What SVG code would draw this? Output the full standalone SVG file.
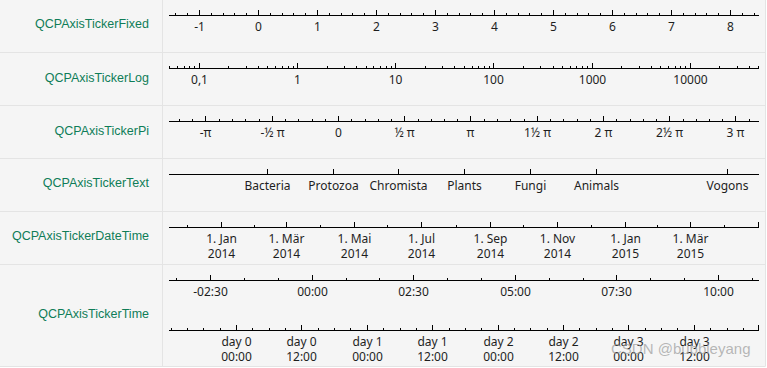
<svg xmlns="http://www.w3.org/2000/svg" width="767" height="368" viewBox="0 0 767 368">
<style>
.bg{fill:#f5f5f5}
.grid{stroke:#e4e4e4;stroke-width:1;fill:none}
.ax{stroke:#000;stroke-width:1;fill:none}
.name{font-family:"Liberation Sans",Arial,sans-serif;font-size:12.5px;fill:#0f7d58;text-anchor:end}
.tl{font-family:"Noto Sans","Open Sans",sans-serif;font-size:12px;fill:#1e1e1e;text-anchor:middle}
.wm{font-family:"Liberation Sans",Arial,sans-serif;font-size:15px;fill:#9a9a9a;fill-opacity:0.7}
</style>
<rect class="bg" x="0" y="0" width="767" height="368"/>
<rect x="0" y="367" width="767" height="1" fill="#ffffff"/>
<rect x="766" y="0" width="1" height="368" fill="#ffffff"/>
<g id="grid">
<path class="grid" d="M0 52.5H765M0 105.5H765M0 158.5H765M0 211.5H765M0 264.5H765M0 366.5H765.5M162.5 0V366M765.5 0V366"/>
</g>

<g id="row-fixed">
<text class="name" x="149" y="28">QCPAxisTickerFixed</text>
<path class="ax" d="M169 15.5H759"/>
<path class="ax" d="M199.5 10V15M258.5 10V15M317.5 10V15M376.5 10V15M435.5 10V15M494.5 10V15M553.5 10V15M612.5 10V15M671.5 10V15M730.5 10V15"/>
<path class="ax" d="M175.5 13V15M187.5 13V15M211.5 13V15M223.5 13V15M234.5 13V15M246.5 13V15M270.5 13V15M282.5 13V15M293.5 13V15M305.5 13V15M329.5 13V15M341.5 13V15M352.5 13V15M364.5 13V15M388.5 13V15M400.5 13V15M411.5 13V15M423.5 13V15M447.5 13V15M459.5 13V15M470.5 13V15M482.5 13V15M506.5 13V15M518.5 13V15M529.5 13V15M541.5 13V15M565.5 13V15M577.5 13V15M588.5 13V15M600.5 13V15M624.5 13V15M636.5 13V15M647.5 13V15M659.5 13V15M683.5 13V15M695.5 13V15M706.5 13V15M718.5 13V15M742.5 13V15M754.5 13V15"/>
<text class="tl" x="199.5" y="31">-1</text>
<text class="tl" x="258.5" y="31">0</text>
<text class="tl" x="317.5" y="31">1</text>
<text class="tl" x="376.5" y="31">2</text>
<text class="tl" x="435.5" y="31">3</text>
<text class="tl" x="494.5" y="31">4</text>
<text class="tl" x="553.5" y="31">5</text>
<text class="tl" x="612.5" y="31">6</text>
<text class="tl" x="671.5" y="31">7</text>
<text class="tl" x="730.5" y="31">8</text>
</g>

<g id="row-log">
<text class="name" x="149" y="82">QCPAxisTickerLog</text>
<path class="ax" d="M169 68.5H759"/>
<path class="ax" d="M199.5 63V68M297.5 63V68M395.5 63V68M493.5 63V68M592.5 63V68M690.5 63V68"/>
<path class="ax" d="M169.5 66V68M177.5 66V68M184.5 66V68M189.5 66V68M194.5 66V68M228.5 66V68M246.5 66V68M258.5 66V68M267.5 66V68M275.5 66V68M282.5 66V68M288.5 66V68M293.5 66V68M327.5 66V68M344.5 66V68M356.5 66V68M366.5 66V68M373.5 66V68M380.5 66V68M386.5 66V68M391.5 66V68M425.5 66V68M442.5 66V68M454.5 66V68M464.5 66V68M472.5 66V68M478.5 66V68M484.5 66V68M489.5 66V68M523.5 66V68M540.5 66V68M553.5 66V68M562.5 66V68M570.5 66V68M576.5 66V68M582.5 66V68M587.5 66V68M621.5 66V68M639.5 66V68M651.5 66V68M660.5 66V68M668.5 66V68M675.5 66V68M680.5 66V68M685.5 66V68M719.5 66V68M737.5 66V68M749.5 66V68M758.5 66V68"/>
<text class="tl" x="199.5" y="84">0,1</text>
<text class="tl" x="297.5" y="84">1</text>
<text class="tl" x="395.5" y="84">10</text>
<text class="tl" x="493.5" y="84">100</text>
<text class="tl" x="592.5" y="84">1000</text>
<text class="tl" x="690.5" y="84">10000</text>
</g>

<g id="row-pi">
<text class="name" x="149" y="135">QCPAxisTickerPi</text>
<path class="ax" d="M169 121.5H759"/>
<path class="ax" d="M205.5 116V121M272.5 116V121M338.5 116V121M404.5 116V121M470.5 116V121M537.5 116V121M603.5 116V121M669.5 116V121M735.5 116V121"/>
<path class="ax" d="M179.5 119V121M192.5 119V121M219.5 119V121M232.5 119V121M245.5 119V121M259.5 119V121M285.5 119V121M298.5 119V121M312.5 119V121M325.5 119V121M351.5 119V121M365.5 119V121M378.5 119V121M391.5 119V121M418.5 119V121M431.5 119V121M444.5 119V121M457.5 119V121M484.5 119V121M497.5 119V121M510.5 119V121M524.5 119V121M550.5 119V121M563.5 119V121M577.5 119V121M590.5 119V121M616.5 119V121M630.5 119V121M643.5 119V121M656.5 119V121M683.5 119V121M696.5 119V121M709.5 119V121M722.5 119V121M749.5 119V121"/>
<text class="tl" x="205.5" y="137">-π</text>
<text class="tl" x="272.5" y="137">-½ π</text>
<text class="tl" x="338.5" y="137">0</text>
<text class="tl" x="404.5" y="137">½ π</text>
<text class="tl" x="470.5" y="137">π</text>
<text class="tl" x="537.5" y="137">1½ π</text>
<text class="tl" x="603.5" y="137">2 π</text>
<text class="tl" x="669.5" y="137">2½ π</text>
<text class="tl" x="735.5" y="137">3 π</text>
</g>

<g id="row-text">
<text class="name" x="149" y="187">QCPAxisTickerText</text>
<path class="ax" d="M169 174.5H759"/>
<path class="ax" d="M267.5 169V174M333.5 169V174M398.5 169V174M464.5 169V174M530.5 169V174M596.5 169V174M727.5 169V174"/>
<text class="tl" x="267.5" y="190">Bacteria</text>
<text class="tl" x="333.5" y="190">Protozoa</text>
<text class="tl" x="398.5" y="190">Chromista</text>
<text class="tl" x="464.5" y="190">Plants</text>
<text class="tl" x="530.5" y="190">Fungi</text>
<text class="tl" x="596.5" y="190">Animals</text>
<text class="tl" x="727.5" y="190">Vogons</text>
</g>

<g id="row-datetime">
<text class="name" x="149" y="240">QCPAxisTickerDateTime</text>
<path class="ax" d="M169 227.5H759"/>
<path class="ax" d="M221.5 222V227M286.5 222V227M354.5 222V227M421.5 222V227M490.5 222V227M557.5 222V227M625.5 222V227M690.5 222V227M758.5 222V227"/>
<path class="ax" d="M187.5 225V227M254.5 225V227M320.5 225V227M387.5 225V227M456.5 225V227M523.5 225V227M591.5 225V227M657.5 225V227M724.5 225V227"/>
<text class="tl" x="221.5" y="243">1. Jan</text><text class="tl" x="221.5" y="258">2014</text>
<text class="tl" x="286.5" y="243">1. Mär</text><text class="tl" x="286.5" y="258">2014</text>
<text class="tl" x="354.5" y="243">1. Mai</text><text class="tl" x="354.5" y="258">2014</text>
<text class="tl" x="421.5" y="243">1. Jul</text><text class="tl" x="421.5" y="258">2014</text>
<text class="tl" x="490.5" y="243">1. Sep</text><text class="tl" x="490.5" y="258">2014</text>
<text class="tl" x="557.5" y="243">1. Nov</text><text class="tl" x="557.5" y="258">2014</text>
<text class="tl" x="625.5" y="243">1. Jan</text><text class="tl" x="625.5" y="258">2015</text>
<text class="tl" x="690.5" y="243">1. Mär</text><text class="tl" x="690.5" y="258">2015</text>
</g>

<g id="row-time">
<text class="name" x="149" y="318">QCPAxisTickerTime</text>
<path class="ax" d="M169 280.5H759"/>
<path class="ax" d="M210.5 275V280M312.5 275V280M413.5 275V280M515.5 275V280M616.5 275V280M718.5 275V280"/>
<path class="ax" d="M176.5 278V280M244.5 278V280M278.5 278V280M346.5 278V280M379.5 278V280M447.5 278V280M481.5 278V280M549.5 278V280M583.5 278V280M650.5 278V280M684.5 278V280M752.5 278V280"/>
<text class="tl" x="210.5" y="296">-02:30</text>
<text class="tl" x="312.5" y="296">00:00</text>
<text class="tl" x="413.5" y="296">02:30</text>
<text class="tl" x="515.5" y="296">05:00</text>
<text class="tl" x="616.5" y="296">07:30</text>
<text class="tl" x="718.5" y="296">10:00</text>
<path class="ax" d="M169 330.5H759"/>
<path class="ax" d="M236.5 325V330M301.5 325V330M367.5 325V330M432.5 325V330M498.5 325V330M563.5 325V330M628.5 325V330M694.5 325V330M758.5 325V330"/>
<path class="ax" d="M171.5 328V330M187.5 328V330M203.5 328V330M220.5 328V330M252.5 328V330M269.5 328V330M285.5 328V330M318.5 328V330M334.5 328V330M350.5 328V330M383.5 328V330M400.5 328V330M416.5 328V330M449.5 328V330M465.5 328V330M481.5 328V330M514.5 328V330M530.5 328V330M547.5 328V330M579.5 328V330M596.5 328V330M612.5 328V330M645.5 328V330M661.5 328V330M677.5 328V330M710.5 328V330M727.5 328V330M743.5 328V330"/>
<text class="tl" x="236.5" y="346">day 0</text><text class="tl" x="236.5" y="361">00:00</text>
<text class="tl" x="301.5" y="346">day 0</text><text class="tl" x="301.5" y="361">12:00</text>
<text class="tl" x="367.5" y="346">day 1</text><text class="tl" x="367.5" y="361">00:00</text>
<text class="tl" x="432.5" y="346">day 1</text><text class="tl" x="432.5" y="361">12:00</text>
<text class="tl" x="498.5" y="346">day 2</text><text class="tl" x="498.5" y="361">00:00</text>
<text class="tl" x="563.5" y="346">day 2</text><text class="tl" x="563.5" y="361">12:00</text>
<text class="tl" x="628.5" y="346">day 3</text><text class="tl" x="628.5" y="361">00:00</text>
<text class="tl" x="694.5" y="346">day 3</text><text class="tl" x="694.5" y="361">12:00</text>
</g>

<text class="wm" x="611" y="354">CSDN @bubbleyang</text>
</svg>
